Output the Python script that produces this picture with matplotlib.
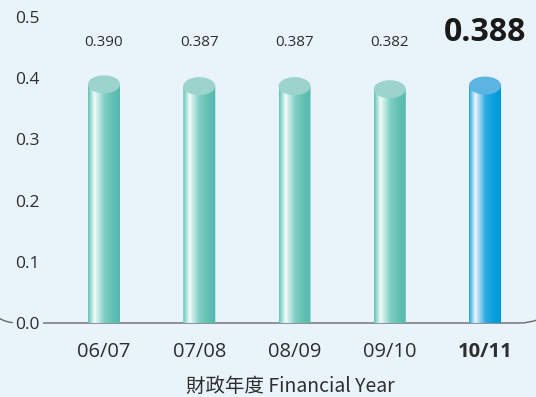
import numpy as np
import matplotlib
matplotlib.use("Agg")
import matplotlib.pyplot as plt
from matplotlib.path import Path
from matplotlib.patches import PathPatch, Ellipse
from matplotlib.colors import LinearSegmentedColormap

# Dividend per share by financial year
years = ["06/07", "07/08", "08/09", "09/10", "10/11"]
values = [0.390, 0.387, 0.387, 0.382, 0.388]
value_labels = ["0.390", "0.387", "0.387", "0.382", "0.388"]
y_ticks = [0.0, 0.1, 0.2, 0.3, 0.4, 0.5]
x_title = "財政年度 Financial Year"

BG = "#e8f4fa"
TEXT = "#2e2e2e"
plt.rcParams["font.family"] = ["Open Sans", "DejaVu Sans"]

teal_cmap = LinearSegmentedColormap.from_list("teal", [
    (0.00, "#62c2b6"), (0.10, "#a8e0d8"), (0.20, "#f2fbfa"), (0.30, "#c8ece6"),
    (0.50, "#7fcfc4"), (0.75, "#62c0b5"), (1.00, "#55b8ad")])
blue_cmap = LinearSegmentedColormap.from_list("blue", [
    (0.00, "#19a3df"), (0.10, "#8ed0f0"), (0.20, "#eaf6fc"), (0.30, "#a5daf3"),
    (0.50, "#2cabe4"), (0.75, "#0aa0e0"), (1.00, "#0095d6")])
teal_top = "#9dd3cd"
blue_top = "#5cb5e1"

W, H = 536, 397
fig = plt.figure(figsize=(W / 100, H / 100), dpi=100, facecolor=BG)

# decorative baseline with rounded ends, in pixel coordinates
deco = fig.add_axes([0, 0, 1, 1], zorder=0)
deco.set_xlim(0, W)
deco.set_ylim(H, 0)
deco.axis("off")
verts = [(-2, 317.5), (6, 323), (18, 323), (520, 323), (530, 323), (538, 319.5)]
codes = [Path.MOVETO, Path.CURVE3, Path.CURVE3, Path.LINETO, Path.CURVE3, Path.CURVE3]
deco.add_patch(PathPatch(Path(verts, codes), facecolor="none", edgecolor="#6a6a6a", lw=1.0))

y0, y1 = 323, 17
ax = fig.add_axes([44 / W, (H - y0) / H, 1 - 44 / W, (y0 - y1) / H], zorder=1)
ax.set_facecolor("none")
for s in ax.spines.values():
    s.set_visible(False)
ax.set_ylim(0, 0.5)
ax.set_xlim(-0.63, 4.535)

bar_w = 0.336
ell_h = 18 / (y0 - y1) * 0.5

x = np.arange(len(years))
for i, (xc, v) in enumerate(zip(x, values)):
    last = i == len(values) - 1
    cmap = blue_cmap if last else teal_cmap
    top = blue_top if last else teal_top
    t = np.linspace(np.pi, 2 * np.pi, 40)
    pts = [(xc - bar_w / 2, v)]
    pts += [(xc + bar_w / 2 * np.cos(a), ell_h / 2 * np.sin(a)) for a in t]
    pts += [(xc + bar_w / 2, v), (xc - bar_w / 2, v)]
    body = PathPatch(Path(pts, closed=False), facecolor="none", edgecolor="none")
    ax.add_patch(body)
    grad = np.linspace(0, 1, 256).reshape(1, -1)
    im = ax.imshow(grad, cmap=cmap, aspect="auto", interpolation="bilinear",
                   extent=[xc - bar_w / 2, xc + bar_w / 2, -ell_h / 2, v], zorder=2)
    im.set_clip_path(body)
    im.set_clip_on(True)
    ax.add_patch(Ellipse((xc, v), bar_w, ell_h, facecolor=top, edgecolor="none", zorder=3))
    if last:
        ax.text(xc, 0.474, value_labels[i], ha="center", va="center",
                fontsize=23, fontweight="bold", color="#1a1a1a")
    else:
        ax.text(xc, 0.458, value_labels[i], ha="center", va="center",
                fontsize=11, color=TEXT)

ax.set_xlim(-0.63, 4.535)
ax.set_ylim(0, 0.5)
ax.set_yticks(y_ticks)
ax.set_yticklabels([f"{v:.1f}" for v in y_ticks], fontsize=12.5, color=TEXT)
ax.set_xticks(x)
ax.set_xticklabels(years, fontsize=14.5, color=TEXT)
ax.get_xticklabels()[-1].set_fontweight("bold")
ax.tick_params(axis="y", length=0, pad=3)
ax.tick_params(axis="x", length=0, pad=14)
ax.get_yticklabels()[0].set_bbox(dict(facecolor=BG, edgecolor="none", pad=2))
ax.set_xlabel(x_title, fontsize=14, color=TEXT, labelpad=10,
              family=["Noto Sans CJK TC", "DejaVu Sans"])

fig.savefig("out.png", dpi=100, facecolor=BG)
